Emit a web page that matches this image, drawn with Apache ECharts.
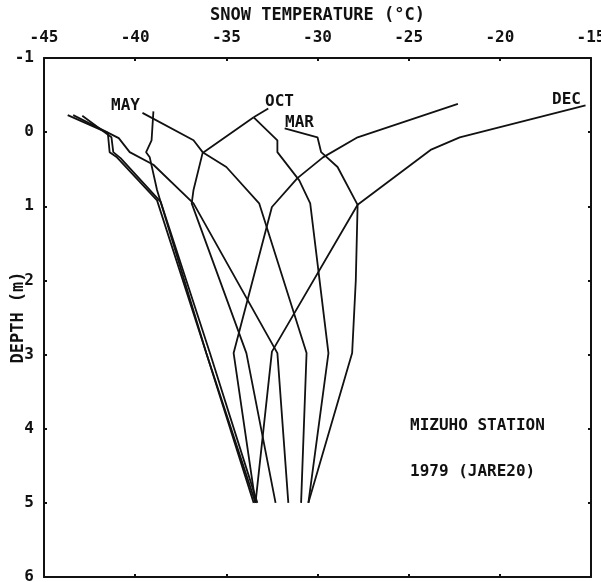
<!DOCTYPE html>
<html style="height: 100%">
<head>
<meta charset="utf-8">
<script src="https://cdn.jsdelivr.net/npm/echarts@6/dist/echarts.min.js"></script>
</head>
<body style="height: 100%; margin: 0; background: #fff;">
<div id="container" style="width: 601px; height: 582px;"></div>
<script type="text/javascript">
// snow temperature profiles, [temperature degC, depth m]
var dec = [[-15.3, -0.36], [-22.2, 0.07], [-23.8, 0.24], [-27.8, 0.98], [-32.5, 2.96], [-33.4, 5.0]];
var warm2 = [[-22.3, -0.38], [-27.8, 0.07], [-29.7, 0.34], [-31.1, 0.62], [-32.5, 1.01], [-34.6, 2.98], [-33.4, 5.0]];
var mar = [[-31.8, -0.05], [-30.0, 0.07], [-29.8, 0.27], [-28.9, 0.47], [-27.8, 0.98], [-27.9, 2.0], [-28.1, 2.98], [-30.5, 5.0]];
var apr = [[-33.5, -0.2], [-32.2, 0.11], [-32.2, 0.27], [-31.0, 0.65], [-30.4, 0.96], [-29.4, 2.98], [-30.5, 5.0]];
var oct = [[-33.5, -0.2], [-36.3, 0.28], [-36.8, 0.78], [-36.9, 0.96], [-33.9, 2.98], [-32.3, 5.0]];
var may = [[-39.6, -0.26], [-36.8, 0.11], [-36.3, 0.27], [-35.0, 0.47], [-33.2, 0.96], [-30.6, 2.98], [-30.9, 5.0]];
var cold1 = [[-39.0, -0.28], [-39.1, 0.11], [-39.4, 0.27], [-39.2, 0.34], [-38.8, 0.78], [-36.1, 2.98], [-33.5, 5.0]];
var cold2 = [[-43.7, -0.23], [-41.5, 0.01], [-41.4, 0.27], [-41.0, 0.34], [-38.8, 0.92], [-36.1, 2.98], [-33.4, 5.0]];
var cold3 = [[-42.9, -0.22], [-41.3, 0.07], [-41.2, 0.27], [-40.8, 0.35], [-38.6, 0.94], [-35.9, 2.98], [-33.3, 5.0]];
var cold4 = [[-43.4, -0.23], [-40.9, 0.08], [-40.3, 0.27], [-39.0, 0.44], [-36.8, 0.96], [-32.2, 2.98], [-31.6, 5.0]];
var octLeader = [[-32.7, -0.32], [-33.5, -0.2]];

var profiles = [dec, warm2, mar, apr, oct, may, cold1, cold2, cold3, cold4, octLeader];

var FONT = 'DejaVu Sans Mono';
var dom = document.getElementById('container');
var myChart = echarts.init(dom);

var series = profiles.map(function (p) {
    return {
        type: 'line',
        data: p,
        symbol: 'none',
        silent: true,
        lineStyle: { color: '#111', width: 1.8 }
    };
});

function labelText(x, y, t) {
    return {
        type: 'text', left: x, top: y,
        style: { text: t, font: 'bold 16px "' + FONT + '"', fill: '#111' }
    };
}

var tickStyle = { show: true, inside: true, length: 3, lineStyle: { color: '#111', width: 2 } };
var lineStyle = { show: true, onZero: false, lineStyle: { color: '#111', width: 2 } };

var option = {
    animation: false,
    grid: { left: 44, right: 10, top: 58, bottom: 5, outerBoundsMode: 'none', containLabel: false },
    xAxis: [{
        type: 'value', position: 'top', min: -45, max: -15, interval: 5,
        name: 'SNOW TEMPERATURE (°C)', nameLocation: 'middle', nameGap: 34, nameMoveOverlap: false,
        nameTextStyle: { fontFamily: FONT, fontSize: 17, fontWeight: 'bold', color: '#111' },
        axisLine: lineStyle,
        axisTick: tickStyle,
        axisLabel: { fontFamily: FONT, fontSize: 16, fontWeight: 'bold', color: '#111', margin: 12 },
        splitLine: { show: false }
    }, {
        type: 'value', position: 'bottom', min: -45, max: -15, interval: 5,
        axisLine: lineStyle,
        axisTick: tickStyle,
        axisLabel: { show: false },
        splitLine: { show: false }
    }],
    yAxis: [{
        type: 'value', inverse: true, min: -1, max: 6, interval: 1,
        name: 'DEPTH (m)', nameLocation: 'middle', nameGap: 17, nameRotate: 90, nameMoveOverlap: false,
        nameTextStyle: { fontFamily: FONT, fontSize: 17, color: '#111', fontWeight: 'bold' },
        axisLine: lineStyle,
        axisTick: tickStyle,
        axisLabel: { fontFamily: FONT, fontSize: 16, fontWeight: 'bold', color: '#111', margin: 10 },
        splitLine: { show: false }
    }, {
        type: 'value', inverse: true, min: -1, max: 6, interval: 1, position: 'right',
        axisLine: lineStyle,
        axisTick: tickStyle,
        axisLabel: { show: false },
        splitLine: { show: false }
    }],
    graphic: [
        labelText(111, 98, 'MAY'),
        labelText(265, 94, 'OCT'),
        labelText(285, 115, 'MAR'),
        labelText(552, 92, 'DEC'),
        labelText(410, 418, 'MIZUHO STATION'),
        labelText(410, 464, '1979 (JARE20)')
    ],
    series: series
};

myChart.setOption(option);
</script>
</body>
</html>
